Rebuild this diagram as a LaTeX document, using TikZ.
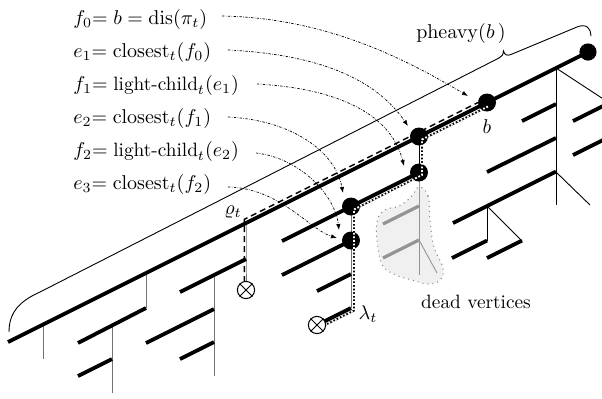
\documentclass[tikz,border=0pt]{standalone}
\usetikzlibrary{arrows.meta}
\begin{document}
\begin{tikzpicture}[x=0.5pt,y=-0.5pt,
  every node/.style={font=\fontsize{9.65}{11.5}\selectfont},
  thickln/.style={line width=1.9pt},
  thinln/.style={line width=0.45pt, black!55},
  thinbk/.style={line width=0.45pt, black},
  deadln/.style={line width=1.6pt, black!42},
  vtx/.style={circle, fill=black, inner sep=0pt, minimum size=9pt},
  leaf/.style={circle, draw, fill=white, line width=0.5pt, inner sep=0pt, minimum size=8.6pt},
  lab/.style={anchor=base west, inner sep=0pt},
  ptr/.style={line width=0.35pt, dash pattern=on 1.2pt off 0.7pt on 0.3pt off 0.7pt, -{Latex[length=3pt,width=2.2pt]}},
  dotpath/.style={line width=0.9pt},
  dotwhite/.style={white, line width=0.9pt, dash pattern=on 0.9pt off 0.9pt},
  dashpath/.style={line width=0.75pt, dash pattern=on 3pt off 2pt},
]
\clip (0,0) rectangle (602,398);

% brace
\draw[line width=0.45pt] (9,332) .. controls (9,312) and (20,301) .. (40,292) -- (499,58)
  .. controls (502,56.5) and (503,55) .. (503.5,51) .. controls (504.5,55) and (507,56) .. (511,54.5)
  -- (577,27) .. controls (587,23) and (591,29) .. (591,36);
\node[anchor=center] (ph) at (461,33) {$\mathrm{pheavy}(b\,)$};

% dead region
\draw[dotted, gray, fill=gray!12, line width=0.5pt] plot[smooth cycle, tension=0.7] coordinates {(419,187) (428,196) (430,220) (434,247) (443,268) (440,280) (428,284) (412,280) (396,275) (383,266) (378,248) (377,222) (385,210) (399,206) (411,197)};
\draw[deadln] (383,224) -- (419,206);
\draw[deadln] (383,258) -- (419,240);
\draw[thinln, black!42] (419,172.5) -- (419,275);
\draw[thinln, black!42] (419,240) -- (437,273);
\node (dv) at (476,302) {dead vertices};

% named points
\coordinate (mainS) at (8,342);
\coordinate (mainE) at (587,52.5);
\coordinate (rc) at (246,223);
\coordinate (rj) at (246,259);
\coordinate (lj) at (351,308);

% left verticals
\draw[thinln] (43,324.5) -- (43,359);
\draw[thinln] (146,273) -- (146,308);
\draw[thinln] (112,326) -- (112,393);
\draw[thinln] (214,275) -- (214,376);
\draw[thinln] (rc) -- (rj) -- (246,290);
\draw[thinln] (351,206.5) -- (lj);
\draw[thinbk] (419,136.5) -- (419,172.5);

% right verticals and diagonals
\draw[thinbk] (556,68) -- (556,205);
\draw[thinbk] (556,68) -- (640,123);
\draw[thinbk] (556,172) -- (590,205);
\draw[thinbk] (487,206) -- (487,241);
\draw[thinbk] (487,206) -- (522,241);

% thick segments
\draw[thickln] (mainS) -- (mainE);
\draw[thickln] (78,343) -- (146,308);
\draw[thickln] (78,376) -- (112,359);
\draw[thickln] (180,292) -- (rj);
\draw[thickln] (146,343) -- (214,309);
\draw[thickln] (180,359) -- (214,342);
\draw[thickln] (282,241) -- (419,172.5);
\draw[thickln] (282,275) -- (351,240.5);
\draw[thickln] (317,291) -- (351,274);
\draw[thickln] (317,325) -- (lj);
\draw[thickln] (522,121) -- (556,104);
\draw[thickln] (573,121) -- (620,97.5);
\draw[thickln] (487,172) -- (556,138);
\draw[thickln] (573,155) -- (620,131.5);
\draw[thickln] (453,223) -- (556,171.5);
\draw[thickln] (452,258) -- (487,240.5);
\draw[thickln] (487,258) -- (522,240.5);

% rho path (dashed)
\draw[dashpath] (244.5,282) -- (244.5,219.25) -- (478,102.5);
% lambda path (dotted)
\draw[dotpath] (488,106.5) -- (422,139.5) -- (422,175) -- (354,209.5) -- (354,310.5) -- (325,325);

% vertices
\node[vtx] (vb) at (487,102.5) {};
\node[vtx] (ve1) at (419,136.5) {};
\node[vtx] (vf1) at (419,172.5) {};
\node[vtx] (ve2) at (351,206.5) {};
\node[vtx] (vf2) at (351,240.5) {};
\node[vtx, minimum size=8.6pt] (vtop) at (588,52) {};
\draw[dotwhite] (488,106.5) -- (422,139.5) -- (422,175) -- (354,209.5) -- (354,310.5) -- (325,325);

% leaves
\node[leaf] (xr) at (246,290) {};
\draw[line width=0.5pt] (xr.north east) -- (xr.south west) (xr.north west) -- (xr.south east);
\node[leaf] (xl) at (317,325) {};
\draw[line width=0.5pt] (xl.north east) -- (xl.south west) (xl.north west) -- (xl.south east);

% small labels
\node (rho) at (233,212) {$\varrho_t$};
\node (lam) at (368,314) {$\lambda_t$};
\node (lb) at (487,127) {$b$};

% left labels
\node[lab] (l0) at (73,24) {$f_0{=}\;b = \mathrm{dis}(\pi_t)$};
\node[lab] (l1) at (73,57) {$e_1{=}\;\mathrm{closest}_t(f_0)$};
\node[lab] (l2) at (73,90) {$f_1{=}\;\mbox{light-child}_t(e_1)$};
\node[lab] (l3) at (73,123) {$e_2{=}\;\mathrm{closest}_t(f_1)$};
\node[lab] (l4) at (73,156) {$f_2{=}\;\mbox{light-child}_t(e_2)$};
\node[lab] (l5) at (73,189) {$e_3{=}\;\mathrm{closest}_t(f_2)$};

\coordinate (a0) at (222,16);
\coordinate (a1) at (228,50);
\coordinate (a2) at (257,84);
\coordinate (a3) at (228,117);
\coordinate (a4) at (256,153);
\coordinate (a5) at (228,187);

\draw[ptr] (a0) .. controls (330,18) and (410,62) .. (468,96);
\draw[ptr] (a1) .. controls (330,55) and (380,85) .. (408,126);
\draw[ptr] (a2) .. controls (330,88) and (390,110) .. (404,166);
\draw[ptr] (a3) .. controls (290,120) and (335,150) .. (343,193);
\draw[ptr] (a4) .. controls (300,158) and (335,195) .. (339,230);
\draw[ptr] (a5) .. controls (280,188) and (310,230) .. (337,238);
\end{tikzpicture}
\end{document}
